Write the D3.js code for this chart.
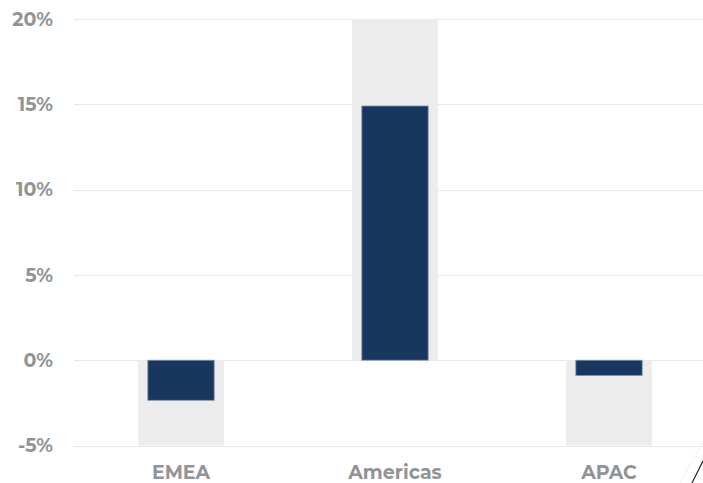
<!DOCTYPE html>
<html>
<head>
<meta charset="utf-8">
<script src="https://cdn.jsdelivr.net/npm/d3@7"></script>
<style>
  html, body { margin: 0; padding: 0; background: #ffffff; }
  svg { display: block; }
  .tick-label { font-family: "Montserrat", "Lato", "DejaVu Sans", sans-serif; font-weight: 700; fill: #909496; }
</style>
</head>
<body>
<svg id="chart" width="703" height="483"></svg>
<script>
// Regional growth, percent
const regions = ["EMEA", "Americas", "APAC"];
const growth = [-2.35, 14.9, -0.9];
const yTicks = [-5, 0, 5, 10, 15, 20];
const yTickLabels = ["-5%", "0%", "5%", "10%", "15%", "20%"];

const width = 703, height = 483;
const svg = d3.select("#chart");

const x = d3.scaleBand()
  .domain(regions)
  .range([74, 716])
  .paddingInner(0)
  .paddingOuter(0);

const y = d3.scaleLinear()
  .domain([-5, 20])
  .range([445.5, 19]);

const bgWidth = x.bandwidth() * 0.4;
const barWidth = x.bandwidth() * 0.31;

// Horizontal gridlines
svg.append("g")
  .selectAll("line")
  .data(yTicks)
  .join("line")
  .attr("x1", 74)
  .attr("x2", width)
  .attr("y1", d => Math.round(y(d)) + 0.5)
  .attr("y2", d => Math.round(y(d)) + 0.5)
  .attr("stroke", "#e8e8e8")
  .attr("stroke-width", 1);

// Y tick labels
svg.append("g")
  .selectAll("text")
  .data(yTicks)
  .join("text")
  .attr("class", "tick-label")
  .attr("x", 53)
  .attr("y", d => y(d))
  .attr("dy", "0.36em")
  .attr("text-anchor", "end")
  .attr("font-size", 19)
  .text((d, i) => yTickLabels[i]);

const data = regions.map((r, i) => ({ region: r, value: growth[i] }));

// Shaded range behind each bar, from zero to the axis extreme on the bar's side
svg.append("g")
  .selectAll("rect")
  .data(data)
  .join("rect")
  .attr("x", d => x(d.region) + x.bandwidth() / 2 - bgWidth / 2)
  .attr("width", bgWidth)
  .attr("y", d => d.value >= 0 ? y(20) : y(0))
  .attr("height", d => d.value >= 0 ? y(0) - y(20) : y(-5) - y(0))
  .attr("fill", "#ececec");

// Value bars
svg.append("g")
  .selectAll("rect")
  .data(data)
  .join("rect")
  .attr("x", d => x(d.region) + x.bandwidth() / 2 - barWidth / 2)
  .attr("width", barWidth)
  .attr("y", d => y(Math.max(0, d.value)))
  .attr("height", d => Math.abs(y(d.value) - y(0)))
  .attr("fill", "#18375f")
  .attr("stroke", "#8494a8")
  .attr("stroke-width", 0.8);

// Category labels
svg.append("g")
  .selectAll("text")
  .data(regions)
  .join("text")
  .attr("class", "tick-label")
  .attr("x", d => x(d) + x.bandwidth() / 2)
  .attr("y", 479)
  .attr("text-anchor", "middle")
  .attr("font-size", 19)
  .text(d => d);

// Corner stroke
svg.append("line")
  .attr("x1", 680).attr("y1", 483).attr("x2", 703).attr("y2", 442)
  .attr("stroke", "#f0f0f0").attr("stroke-width", 1);
svg.append("line")
  .attr("x1", 692).attr("y1", 483).attr("x2", 703).attr("y2", 461)
  .attr("stroke", "#222").attr("stroke-width", 1.2);
</script>
</body>
</html>
